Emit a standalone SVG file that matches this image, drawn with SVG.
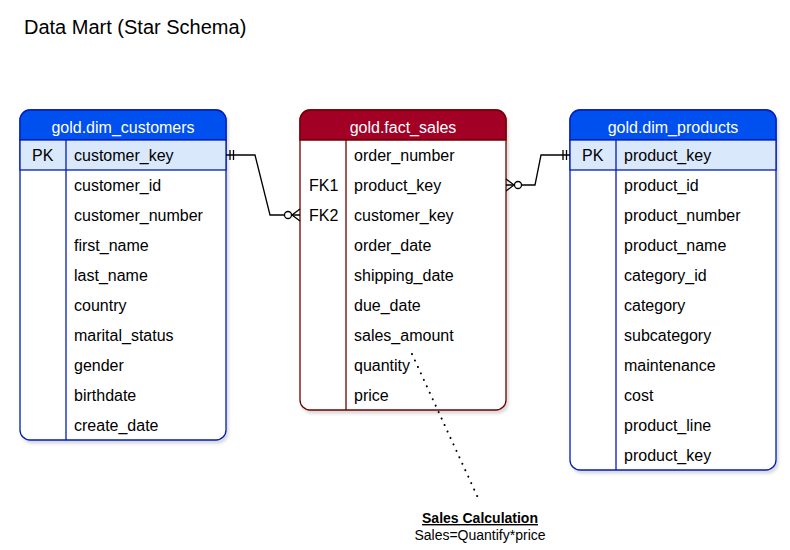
<svg xmlns="http://www.w3.org/2000/svg" width="790" height="550" viewBox="0 0 790 550">
<defs>
<style>
text{font-family:"Liberation Sans",Arial,sans-serif;font-size:16px;fill:#000}
.hdr{fill:#fff;text-anchor:middle}
.bbox{fill:#fff;stroke:#001DBC;stroke-width:1.3}
.rbox{fill:#fff;stroke:#6F0000;stroke-width:1.3}
.bl{stroke:#001DBC;stroke-width:1.3;fill:none}
.rl{stroke:#6F0000;stroke-width:1.3;fill:none}
.conn{stroke:#000;stroke-width:1.3;fill:none}
</style>
<filter id="sh" x="-10%" y="-10%" width="130%" height="130%">
<feDropShadow dx="2" dy="3" stdDeviation="1.5" flood-color="#000" flood-opacity="0.15"/>
</filter>
</defs>
<rect width="790" height="550" fill="#fff"/>
<text x="24" y="34" style="font-size:20px">Data Mart (Star Schema)</text>

<g id="dim_customers">
<rect class="bbox" x="20" y="110" width="206" height="330" rx="10" filter="url(#sh)"/>
<path d="M20,140 V120 A10,10 0 0 1 30,110 H216 A10,10 0 0 1 226,120 V140 Z" fill="#0050EF" stroke="#001DBC" stroke-width="1.3"/>
<rect x="20" y="140" width="206" height="30" fill="#dae8fc" stroke="#001DBC" stroke-width="1.3"/>
<line class="bl" x1="66" y1="140" x2="66" y2="440"/>
<text class="hdr" x="123" y="133">gold.dim_customers</text>
<text x="32" y="161">PK</text>
<text x="74" y="161">customer_key</text>
<text x="74" y="191">customer_id</text>
<text x="74" y="221">customer_number</text>
<text x="74" y="251">first_name</text>
<text x="74" y="281">last_name</text>
<text x="74" y="311">country</text>
<text x="74" y="341">marital_status</text>
<text x="74" y="371">gender</text>
<text x="74" y="401">birthdate</text>
<text x="74" y="431">create_date</text>
</g>

<g id="fact_sales">
<rect class="rbox" x="300" y="110" width="206" height="300" rx="10" filter="url(#sh)"/>
<path d="M300,140 V120 A10,10 0 0 1 310,110 H496 A10,10 0 0 1 506,120 V140 Z" fill="#A20025" stroke="#6F0000" stroke-width="1.3"/>
<line class="rl" x1="346" y1="140" x2="346" y2="410"/>
<text class="hdr" x="403" y="133">gold.fact_sales</text>
<text x="354" y="161">order_number</text>
<text x="309" y="191">FK1</text>
<text x="354" y="191">product_key</text>
<text x="309" y="221">FK2</text>
<text x="354" y="221">customer_key</text>
<text x="354" y="251">order_date</text>
<text x="354" y="281">shipping_date</text>
<text x="354" y="311">due_date</text>
<text x="354" y="341">sales_amount</text>
<text x="354" y="371">quantity</text>
<text x="354" y="401">price</text>
</g>

<g id="dim_products">
<rect class="bbox" x="570" y="110" width="206" height="360" rx="10" filter="url(#sh)"/>
<path d="M570,140 V120 A10,10 0 0 1 580,110 H766 A10,10 0 0 1 776,120 V140 Z" fill="#0050EF" stroke="#001DBC" stroke-width="1.3"/>
<rect x="570" y="140" width="206" height="30" fill="#dae8fc" stroke="#001DBC" stroke-width="1.3"/>
<line class="bl" x1="616" y1="140" x2="616" y2="470"/>
<text class="hdr" x="673" y="133">gold.dim_products</text>
<text x="582" y="161">PK</text>
<text x="624" y="161">product_key</text>
<text x="624" y="191">product_id</text>
<text x="624" y="221">product_number</text>
<text x="624" y="251">product_name</text>
<text x="624" y="281">category_id</text>
<text x="624" y="311">category</text>
<text x="624" y="341">subcategory</text>
<text x="624" y="371">maintenance</text>
<text x="624" y="401">cost</text>
<text x="624" y="431">product_line</text>
<text x="624" y="461">product_key</text>
</g>

<g id="connectors">
<path class="conn" d="M226,155 H255 L270,215 H300"/>
<path class="conn" d="M230,150 V160 M233.5,150 V160"/>
<circle cx="288" cy="215" r="3.5" fill="#fff" stroke="#000" stroke-width="1.3"/>
<path class="conn" d="M300,209 L292,215 L300,221"/>
<path class="conn" d="M506,185 H535 L541,155 H570"/>
<path class="conn" d="M563,150 V160 M566.5,150 V160"/>
<circle cx="518" cy="185" r="3.5" fill="#fff" stroke="#000" stroke-width="1.3"/>
<path class="conn" d="M506,179 L514,185 L506,191"/>
<path d="M412,354 L479,500" stroke="#000" stroke-width="2" fill="none" stroke-dasharray="0.1 7" stroke-linecap="round"/>
</g>

<g id="note">
<text x="480" y="523" text-anchor="middle" style="font-size:14px;font-weight:bold;text-decoration:underline">Sales Calculation</text>
<text x="480" y="540" text-anchor="middle" style="font-size:14px">Sales=Quantify*price</text>
</g>
</svg>
